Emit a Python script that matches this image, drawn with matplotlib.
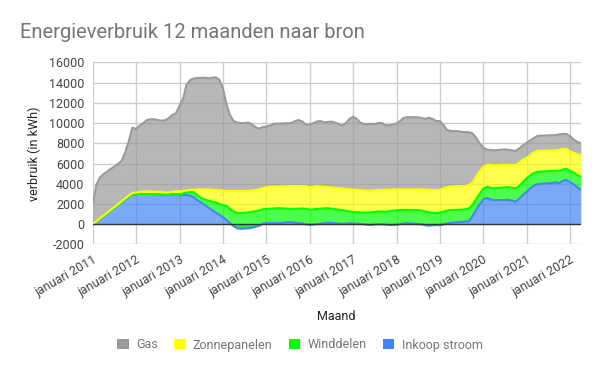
import matplotlib
matplotlib.use("Agg")
import matplotlib.pyplot as plt
import matplotlib.dates as mdates
from matplotlib.patches import Patch
import pandas as pd
import numpy as np

plt.rcParams['font.family'] = ['Roboto', 'DejaVu Sans']

months = pd.date_range('2011-01-01', '2022-04-01', freq='MS')

inkoop_stroom = [
    0, 250, 520, 800, 1050, 1330, 1600, 1880, 2150, 2450, 2720, 2950,
    2980, 3000, 3000, 3000, 2990, 2980, 2960, 2940, 2940, 2950, 2960, 2960,
    2950, 2920, 2880, 2820, 2650, 2350, 2150, 1900, 1650, 1400, 1150, 950,
    700, 400, 100, -200, -400, -450, -430, -400, -350, -250, -150, 50,
    100, 120, 100, 100, 120, 150, 200, 200, 150, 100, 80, 0,
    -50, -30, 20, 50, 100, 150, 130, 100, 50, 30, 60, 100,
    80, 50, 30, 0, -50, -60, -20, 0, 0, -30, -60, -70,
    -50, 20, 80, 100, 80, 50, 30, 0, -100, -140, -100, -70,
    -100, 0, 80, 130, 170, 200, 220, 250, 300, 750, 1400, 1950,
    2450, 2600, 2450, 2380, 2380, 2400, 2400, 2400, 2330, 2230, 2550, 2900,
    3220, 3560, 3790, 3950, 4000, 4020, 4050, 4070, 4150, 4050, 4280, 4380,
    4150, 3950, 3650, 3390,
]
winddelen = [
    0, 0, 0, 0, 0, 0, 0, 0, 0, 0, 0, 0,
    0, 0, 0, 0, 0, 0, 0, 0, 0, 0, 0, 0,
    0, 130, 270, 380, 500, 500, 450, 550, 680, 830, 1000, 1050,
    1200, 1400, 1400, 1450, 1500, 1550, 1550, 1580, 1570, 1530, 1500, 1430,
    1400, 1410, 1460, 1480, 1460, 1410, 1320, 1310, 1370, 1440, 1470, 1520,
    1490, 1510, 1490, 1490, 1470, 1430, 1410, 1380, 1380, 1370, 1260, 1150,
    1140, 1150, 1130, 1150, 1200, 1240, 1240, 1250, 1240, 1260, 1340, 1420,
    1430, 1380, 1340, 1320, 1330, 1350, 1370, 1350, 1350, 1320, 1220, 1160,
    1250, 1250, 1260, 1270, 1250, 1230, 1220, 1230, 1250, 1150, 1050, 1050,
    1050, 1100, 1150, 1180, 1200, 1220, 1250, 1260, 1270, 1310, 1250, 1300,
    1320, 1290, 1260, 1230, 1200, 1200, 1190, 1190, 1150, 1230, 1140, 1080,
    1130, 1150, 1200, 1310,
]
zonnepanelen = [
    30, 40, 50, 60, 70, 80, 90, 100, 110, 110, 120, 130,
    150, 200, 230, 250, 250, 250, 250, 230, 200, 200, 250, 300,
    300, 250, 200, 200, 270, 590, 850, 1000, 1100, 1170, 1230, 1350,
    1430, 1500, 1790, 2040, 2190, 2190, 2180, 2120, 2100, 2080, 2100, 2100,
    2150, 2170, 2160, 2150, 2170, 2200, 2250, 2270, 2260, 2230, 2210, 2250,
    2210, 2240, 2260, 2200, 2130, 2080, 2080, 2120, 2150, 2150, 2180, 2200,
    2200, 2200, 2210, 2190, 2170, 2150, 2130, 2130, 2150, 2170, 2140, 2090,
    2070, 2050, 2040, 2040, 2050, 2060, 2050, 2090, 2170, 2220, 2270, 2290,
    2270, 2300, 2310, 2320, 2330, 2340, 2330, 2310, 2330, 2210, 2250, 2200,
    2190, 2160, 2260, 2270, 2250, 2230, 2210, 2200, 2250, 2320, 2300, 2200,
    2040, 2000, 2050, 2060, 2060, 2050, 2040, 2030, 2000, 2070, 2010, 1990,
    1920, 1950, 2070, 2150,
]
gas = [
    1970, 3590, 4030, 4080, 4080, 4050, 4000, 3980, 3990, 4510, 5360, 6460,
    6290, 6540, 6750, 7050, 7130, 7140, 7090, 7070, 7130, 7320, 7590, 7700,
    8450, 9150, 10450, 10850, 10980, 11010, 11020, 11030, 10990, 11080, 11140, 10950,
    10110, 8500, 7510, 6910, 6760, 6710, 6700, 6750, 6580, 6240, 6000, 6020,
    6000, 6050, 6180, 6220, 6200, 6210, 6230, 6220, 6420, 6530, 6390, 6080,
    6200, 6260, 6380, 6460, 6370, 6440, 6520, 6450, 6320, 6200, 6500, 6950,
    7210, 7000, 6680, 6560, 6580, 6570, 6550, 6620, 6610, 6380, 6360, 6410,
    6500, 6750, 7040, 7120, 7120, 7110, 7120, 7060, 7000, 7120, 7010, 6820,
    6780, 6250, 5670, 5500, 5450, 5430, 5370, 5310, 5210, 4880, 3860, 2800,
    1880, 1510, 1480, 1470, 1500, 1500, 1540, 1490, 1450, 1390, 1400, 1400,
    1470, 1450, 1400, 1480, 1490, 1490, 1500, 1510, 1500, 1530, 1490, 1470,
    1500, 1300, 1230, 1150,
]

series_names = ['Inkoop stroom', 'Winddelen', 'Zonnepanelen', 'Gas']
series_colors = ['#4285f4', '#00ff00', '#ffff00', '#999999']
legend_order = ['Gas', 'Zonnepanelen', 'Winddelen', 'Inkoop stroom']

fig = plt.figure(figsize=(6, 3.71), dpi=100)
ax = fig.add_axes([0.1545, 0.341, 0.968 - 0.1545, 0.832 - 0.341])

data = [inkoop_stroom, winddelen, zonnepanelen, gas]
base = np.zeros(len(months))
for vals, name, col in zip(data, series_names, series_colors):
    top = base + np.array(vals)
    ax.fill_between(months, base, top, color=col, alpha=0.7, linewidth=0, zorder=2)
    ax.plot(months, top, color=col, linewidth=1.5, zorder=3)
    base = top

ax.axhline(0, color='#333333', linewidth=1, zorder=4)

ax.set_ylim(-2000, 16000)
ax.set_xlim(months[0], months[-1])
ax.set_yticks(np.arange(-2000, 16001, 2000))
ax.set_yticklabels([str(v) for v in range(-2000, 16001, 2000)])
years = pd.date_range('2011-01-01', '2022-01-01', freq='YS')
ax.set_xticks(years)
ax.set_xticklabels([f'januari {d.year}' for d in years], rotation=30, ha='right',
                   rotation_mode='anchor')
ax.grid(True, color='#cccccc', linewidth=1, zorder=0)
ax.set_axisbelow(True)
for s in ax.spines.values():
    s.set_visible(False)
ax.tick_params(axis='both', length=0, labelsize=9, colors='#444444')
ax.tick_params(axis='x', pad=6)
ax.tick_params(axis='y', pad=6)

ax.set_ylabel('verbruik (in kWh)', fontsize=9, color='#222222', labelpad=6)
ax.set_xlabel('Maand', fontsize=9, color='#222222', labelpad=8)

fig.text(20 / 600, 1 - 32 / 371, 'Energieverbruik 12 maanden naar bron', fontsize=14.5,
         color='#757575', va='center', ha='left')

col_map = dict(zip(series_names, series_colors))
handles = [Patch(facecolor=col_map[n], edgecolor='none') for n in legend_order]
fig.legend(handles, legend_order, loc='center', bbox_to_anchor=(0.5, 1 - 345 / 371),
           ncol=4, frameon=False, fontsize=9, handlelength=0.9, handleheight=0.9,
           columnspacing=1.3, handletextpad=0.6, labelcolor='#757575')

fig.savefig('out.png', dpi=100)
